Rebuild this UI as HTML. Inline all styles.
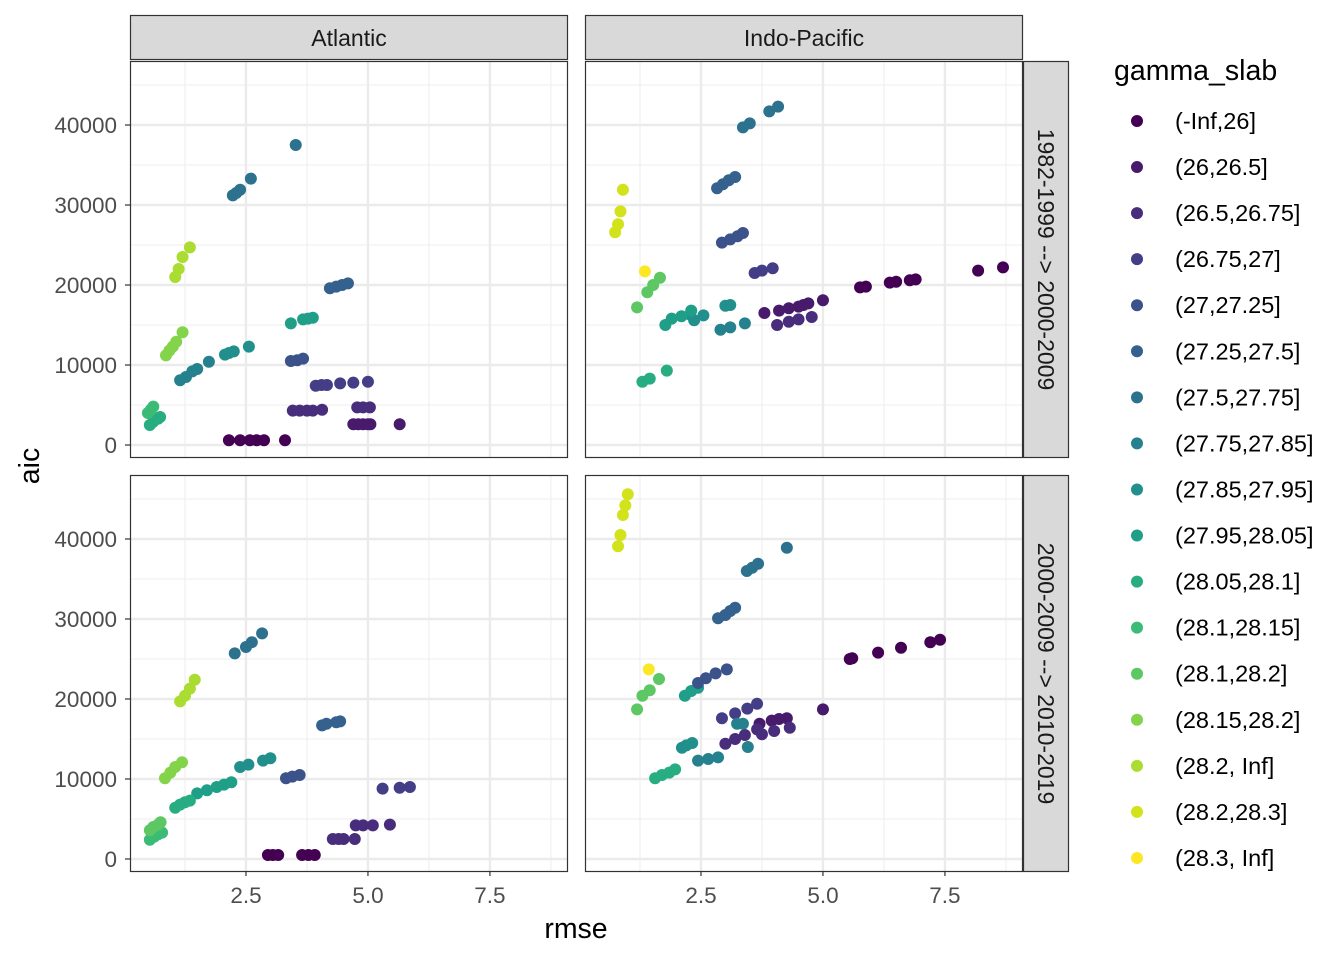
<!DOCTYPE html>
<html><head><meta charset="utf-8"><style>
body{margin:0;background:#fff;}
svg text{font-family:"Liberation Sans",sans-serif;}
</style></head><body>
<svg id="chart" width="1344" height="960" xmlns="http://www.w3.org/2000/svg"></svg>
<script>
const groupLabels=["(-Inf,26]","(26,26.5]","(26.5,26.75]","(26.75,27]","(27,27.25]","(27.25,27.5]","(27.5,27.75]","(27.75,27.85]","(27.85,27.95]","(27.95,28.05]","(28.05,28.1]","(28.1,28.15]","(28.1,28.2]","(28.15,28.2]","(28.2, Inf]","(28.2,28.3]","(28.3, Inf]"];
const groupColors=["#440154","#481A6C","#472D7B","#433E85","#3B528B","#34618D","#2C728E","#25818E","#21908C","#1F9F88","#27AD81","#3BBB75","#5DC863","#84D44B","#AADC32","#D2E21B","#FDE725"];
const xTicks=[2.5,5.0,7.5];
const xTickLabels=["2.5","5.0","7.5"];
const yTicks=[0,10000,20000,30000,40000];
const yTickLabels=["0","10000","20000","30000","40000"];
const colStrips=["Atlantic","Indo-Pacific"];
const rowStrips=["1982-1999 --> 2000-2009","2000-2009 --> 2010-2019"];
// Top-left: Atlantic 1982-1999
const tlX=[2.15,2.38,2.58,2.72,2.87,3.3, 4.7,4.8,4.9,5.0,5.05,5.65, 3.46,3.6,3.75,3.87,4.06,4.78,4.9,5.04, 3.93,4.05,4.16,4.43,4.7,5.0, 3.42,3.55,3.67, 4.22,4.35,4.47,4.59, 2.23,2.3,2.38,2.6,3.52, 1.15,1.27,1.4,1.5,1.74, 2.07,2.15,2.25,2.56, 3.42,3.67,3.77,3.87, 0.53,0.6,0.7,0.74, 0.49,0.55,0.6, 0.86,0.93,1.0,1.07,1.2, 1.05,1.12,1.2,1.35];
const tlY=[600,600,600,600,600,600, 2600,2600,2600,2600,2600,2600, 4300,4300,4300,4300,4400,4700,4700,4700, 7400,7500,7500,7700,7800,7900, 10500,10600,10800, 19600,19800,20000,20200, 31200,31500,31900,33300,37500, 8100,8500,9200,9500,10400, 11300,11500,11700,12300, 15200,15700,15800,15900, 2500,2900,3300,3500, 4000,4400,4800, 11200,11800,12300,12900,14100, 21000,22000,23500,24700];
const tlG=[0,0,0,0,0,0, 1,1,1,1,1,1, 2,2,2,2,2,2,2,2, 3,3,3,3,3,3, 4,4,4, 5,5,5,5, 6,6,6,6,6, 7,7,7,7,7, 8,8,8,8, 9,9,9,9, 10,10,10,10, 11,11,11, 13,13,13,13,13, 14,14,14,14];
// Top-right: Indo-Pacific 1982-1999
const trX=[5.76,5.88,6.37,6.5,6.78,6.9,8.18,8.69, 3.8,4.1,4.3,4.5,4.6,4.7,5.0, 4.06,4.3,4.5,4.77, 3.6,3.75,3.97, 2.93,3.1,3.25,3.36, 2.83,2.95,3.07,3.2, 3.36,3.5,3.9,4.08, 2.9,3.1,3.4, 2.28,2.36,2.55,3.0,3.1, 1.77,1.9,2.1,2.3, 1.3,1.45,1.8, 1.19, 1.4,1.52,1.66, 0.74,0.8,0.85,0.9, 1.35];
const trY=[19700,19800,20300,20400,20600,20700,21800,22200, 16500,16800,17100,17300,17500,17700,18100, 15000,15400,15700,16000, 21500,21800,22100, 25300,25700,26100,26500, 32100,32600,33100,33500, 39700,40200,41700,42300, 14400,14700,15200, 16300,15600,16200,17400,17500, 15000,15800,16100,16800, 7900,8300,9300, 17200, 19100,20000,20900, 26600,27600,29200,31900, 21700];
const trG=[0,0,0,0,0,0,0,0, 1,1,1,1,1,1,1, 2,2,2,2, 3,3,3, 4,4,4,4, 5,5,5,5, 6,6,6,6, 7,7,7, 8,8,8,8,8, 9,9,9,9, 10,10,10, 12, 12,12,12, 15,15,15,15, 16];
// Bottom-left: Atlantic 2000-2009
const blX=[2.95,3.05,3.16,3.65,3.78,3.91, 4.28,4.4,4.5,4.73, 4.75,4.9,5.1,5.45, 5.3,5.65,5.86, 3.32,3.45,3.6, 4.06,4.15,4.35,4.43, 2.27,2.5,2.62,2.83, 2.38,2.55,2.85,3.0, 1.5,1.7,1.9,2.05,2.2, 1.05,1.15,1.25,1.35, 0.53,0.62,0.7,0.78, 0.53,0.6,0.7,0.75, 0.84,0.95,1.05,1.19, 1.15,1.25,1.35,1.45];
const blY=[500,500,500,500,500,500, 2500,2500,2500,2500, 4200,4200,4200,4300, 8800,8900,9000, 10100,10300,10500, 16700,16900,17100,17200, 25700,26500,27100,28200, 11500,11800,12300,12600, 8200,8600,9000,9300,9600, 6400,6800,7100,7300, 2400,2800,3100,3300, 3600,4000,4300,4600, 10100,10800,11500,12100, 19700,20400,21300,22400];
const blG=[0,0,0,0,0,0, 2,2,2,2, 2,2,2,2, 3,3,3, 4,4,4, 5,5,5,5, 6,6,6,6, 8,8,8,8, 9,9,9,9,9, 10,10,10,10, 11,11,11,11, 12,12,12,12, 13,13,13,13, 14,14,14,14];
// Bottom-right: Indo-Pacific 2000-2009
const brX=[0.8,0.85,0.9,0.95,1.0, 1.43, 1.19,1.3,1.45,1.64, 2.17,2.3,2.44, 2.44,2.6,2.8,3.03, 2.85,3.0,3.1,3.2, 3.44,3.55,3.67,4.26, 2.93,3.2,3.45,3.65, 5.55,5.6,6.13,6.6,7.2,7.4, 5.0,3.95,4.1,4.26,3.7, 3.0,3.2,3.4,3.65,3.75,4.0,4.32, 3.24,3.36,3.46,2.44,2.65,2.85, 2.11,2.2,2.32, 1.56,1.7,1.85,1.97];
const brY=[39100,40500,43000,44200,45600, 23700, 18700,20400,21100,22500, 20400,21000,21400, 22000,22600,23200,23700, 30100,30500,31000,31400, 36000,36400,36900,38900, 17600,18200,18800,19400, 25000,25100,25800,26400,27100,27400, 18700,17300,17500,17600,16900, 14400,15000,15500,16200,15600,16000,16400, 16900,16900,14000,12300,12500,12700, 13900,14200,14500, 10100,10500,10800,11200];
const brG=[15,15,15,15,15, 16, 12,12,12,12, 9,9,9, 4,4,4,4, 5,5,5,5, 6,6,6,6, 3,3,3,3, 0,0,0,0,0,0, 1,1,1,1,1, 2,2,2,2,2,2,2, 7,7,7,7,7,7, 8,8,8, 10,10,10,10];

const NS="http://www.w3.org/2000/svg";
const svg=document.getElementById('chart');
function mk(tag,attrs,parent){const e=document.createElementNS(NS,tag);for(const k in attrs)e.setAttribute(k,attrs[k]);(parent||svg).appendChild(e);return e;}
const xMin=0.123, xMax=9.1, yMin=-1625, yMax=48000;
const colX=[130,585], panelW=438, rowY=[61,475], panelH=397;
function sx(c,v){return colX[c]+(v-xMin)/(xMax-xMin)*panelW;}
function sy(r,v){return rowY[r]+panelH-(v-yMin)/(yMax-yMin)*panelH;}
const panels=[[0,0,tlX,tlY,tlG],[1,0,trX,trY,trG],[0,1,blX,blY,blG],[1,1,brX,brY,brG]];
panels.forEach(([c,r,X,Y,G])=>{
  const g=mk('g',{});
  
  
  mk('rect',{x:colX[c],y:rowY[r],width:panelW,height:panelH,fill:'#fff'},g);
  [1.25,3.75,6.25,8.75].forEach(v=>{const x=sx(c,v);mk('line',{x1:x,x2:x,y1:rowY[r],y2:rowY[r]+panelH,stroke:'#F0F0F0','stroke-width':1.2},g);});
  [5000,15000,25000,35000,45000].forEach(v=>{const y=sy(r,v);mk('line',{x1:colX[c],x2:colX[c]+panelW,y1:y,y2:y,stroke:'#F0F0F0','stroke-width':1.2},g);});
  xTicks.forEach(v=>{const x=sx(c,v);mk('line',{x1:x,x2:x,y1:rowY[r],y2:rowY[r]+panelH,stroke:'#EBEBEB','stroke-width':2.4},g);});
  yTicks.forEach(v=>{const y=sy(r,v);mk('line',{x1:colX[c],x2:colX[c]+panelW,y1:y,y2:y,stroke:'#EBEBEB','stroke-width':2.4},g);});
  X.forEach((v,i)=>{
    const p=mk('circle',{cx:sx(c,v),cy:sy(r,Y[i]),r:6,fill:groupColors[G[i]]},g);
    
    
  });
  mk('rect',{x:colX[c]+0.5,y:rowY[r]+0.5,width:panelW-1,height:panelH-1,fill:'none',stroke:'#333','stroke-width':1.2},g);
});
colStrips.forEach((s,c)=>{
  const g=mk('g',{});
  
  
  mk('rect',{x:colX[c]+0.5,y:15.5,width:panelW-1,height:44,fill:'#D9D9D9',stroke:'#333','stroke-width':1.2},g);
  const t=mk('text',{x:colX[c]+panelW/2,y:46,'text-anchor':'middle','font-size':23,fill:'#1A1A1A'},g);t.textContent=s;
});
rowStrips.forEach((s,r)=>{
  const g=mk('g',{});
  
  
  mk('rect',{x:1023.5,y:rowY[r]+0.5,width:45,height:panelH-1,fill:'#D9D9D9',stroke:'#333','stroke-width':1.2},g);
  const cx=1038,cy=rowY[r]+panelH/2;
  const t=mk('text',{x:cx,y:cy,'text-anchor':'middle','font-size':23,fill:'#1A1A1A',transform:`rotate(90 ${cx} ${cy})`},g);t.textContent=s;
});
[0,1].forEach(c=>{xTicks.forEach((v,i)=>{const x=sx(c,v);
  mk('line',{x1:x,x2:x,y1:871,y2:876,stroke:'#333','stroke-width':1.2});
  const t=mk('text',{x:x,y:903,'text-anchor':'middle','font-size':22.5,fill:'#4D4D4D'});
  t.textContent=xTickLabels[i];});});
[0,1].forEach(r=>{yTicks.forEach((v,i)=>{const y=sy(r,v);
  mk('line',{x1:125,x2:130,y1:y,y2:y,stroke:'#333','stroke-width':1.2});
  const t=mk('text',{x:117,y:y+8,'text-anchor':'end','font-size':22.5,fill:'#4D4D4D'});
  t.textContent=yTickLabels[i];});});
const xt=mk('text',{x:576,y:938,'text-anchor':'middle','font-size':28.5,fill:'#000'});
xt.textContent='rmse';
const yt=mk('text',{x:39,y:466,'text-anchor':'middle','font-size':28.5,fill:'#000',transform:'rotate(-90 39 466)'});
yt.textContent='aic';
const lt=mk('text',{x:1114,y:80,'font-size':28.5,fill:'#000'});
lt.textContent='gamma_slab';
groupLabels.forEach((s,i)=>{
  const y=121+i*46.06;
  const g=mk('g',{});
  
  
  mk('circle',{cx:1137,cy:y,r:6,fill:groupColors[i]},g);
  const t=mk('text',{x:1175,y:y+8,'font-size':23.5,fill:'#000'},g);t.textContent=s;
});
</script>
</body></html>
